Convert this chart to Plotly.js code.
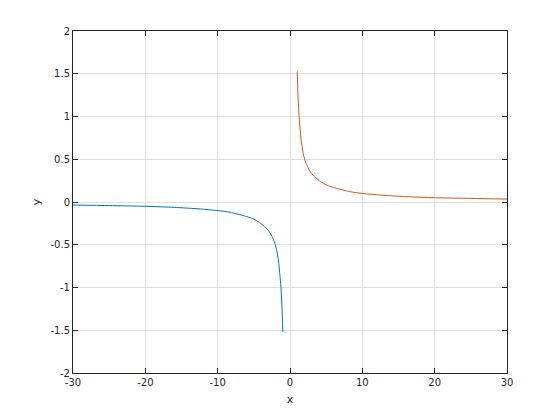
<!DOCTYPE html>
<html>
<head>
<meta charset="utf-8">
<script src="https://cdn.plot.ly/plotly-3.0.1.min.js"></script>
<style>html,body{margin:0;padding:0;background:#fff;}#chart{width:560px;height:420px;}</style>
</head>
<body>
<div id="chart"></div>
<script>
// Negative branch (blue)
var xNeg = [-30, -25, -20, -16, -13, -10, -8.3, -6, -5, -4.2, -3.5, -3, -2.5, -2.1, -1.8, -1.55, -1.4, -1.25, -1.1, -1.0];
var yNeg = [-0.035, -0.042, -0.05, -0.063, -0.078, -0.1, -0.12, -0.17, -0.2, -0.24, -0.29, -0.33, -0.4, -0.48, -0.58, -0.72, -0.85, -1.0, -1.25, -1.52];
// Positive branch (orange)
var xPos = [1.0, 1.1, 1.25, 1.4, 1.55, 1.8, 2.1, 2.5, 3.0, 3.5, 4.2, 5, 6, 8.3, 10, 13, 16, 20, 25, 30];
var yPos = [1.53, 1.25, 1.0, 0.85, 0.72, 0.58, 0.48, 0.4, 0.33, 0.29, 0.24, 0.2, 0.17, 0.12, 0.1, 0.078, 0.063, 0.05, 0.042, 0.034];
var xTicks = [-30, -20, -10, 0, 10, 20, 30];
var yTicks = [-2, -1.5, -1, -0.5, 0, 0.5, 1, 1.5, 2];

var axisCommon = {
  showgrid: true, gridcolor: '#dfdfdf', gridwidth: 1,
  zeroline: false, showline: true, linecolor: '#262626', linewidth: 1,
  mirror: 'ticks', ticks: 'inside', ticklen: 5, tickcolor: '#262626',
  tickfont: {family: 'DejaVu Sans, sans-serif', size: 10, color: '#262626'}
};

var data = [
  {x: xNeg, y: yNeg, type: 'scatter', mode: 'lines', line: {color: '#0072BD', width: 1, shape: 'spline', smoothing: 0.6}, hoverinfo: 'skip'},
  {x: xPos, y: yPos, type: 'scatter', mode: 'lines', line: {color: '#D95319', width: 1, shape: 'spline', smoothing: 0.6}, hoverinfo: 'skip'}
];

var layout = {
  width: 560, height: 420,
  margin: {l: 73, r: 53, t: 31, b: 47},
  paper_bgcolor: '#ffffff', plot_bgcolor: '#ffffff',
  showlegend: false,
  xaxis: Object.assign({}, axisCommon, {
    range: [-30, 30], tickvals: xTicks, ticktext: xTicks.map(String),
    title: {text: 'x', font: {family: 'DejaVu Sans, sans-serif', size: 11, color: '#262626'}, standoff: 8}
  }),
  yaxis: Object.assign({}, axisCommon, {
    range: [-2, 2], tickvals: yTicks, ticktext: yTicks.map(String),
    title: {text: 'y', font: {family: 'DejaVu Sans, sans-serif', size: 11, color: '#262626'}, standoff: 7}
  })
};

Plotly.newPlot('chart', data, layout, {staticPlot: true, displayModeBar: false});
</script>
</body>
</html>
